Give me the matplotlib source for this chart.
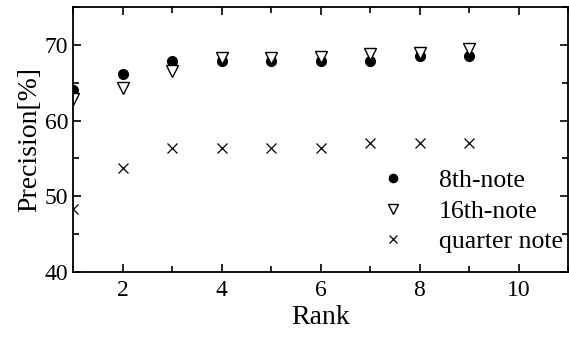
import matplotlib
matplotlib.use('Agg')
import matplotlib.pyplot as plt
from matplotlib.ticker import MultipleLocator

plt.rcParams['font.family'] = ['Liberation Serif', 'DejaVu Serif']

rank = [1, 2, 3, 4, 5, 6, 7, 8, 9]
eighth = [64.1, 66.2, 67.9, 67.9, 67.9, 67.9, 67.9, 68.5, 68.5]
sixteenth = [62.8, 64.3, 66.6, 68.3, 68.3, 68.4, 68.8, 68.9, 69.4]
quarter = [48.3, 53.7, 56.4, 56.4, 56.4, 56.4, 57.0, 57.0, 57.0]

fig = plt.figure(figsize=(5.69, 3.38), dpi=100)
ax = fig.add_axes([73/569, 1 - 272/338, (568-73)/569, (272-7)/338])

ax.plot(rank, eighth, linestyle='none', marker='o', markersize=7, color='black', label='8th-note')
ax.plot(rank, sixteenth, linestyle='none', marker='v', markersize=8, markerfacecolor='white',
        markeredgecolor='black', markeredgewidth=1, label='16th-note')
ax.plot(rank, quarter, linestyle='none', marker='x', markersize=7, color='black',
        markeredgewidth=0.9, label='quarter note')

ax.set_xlim(1, 11)
ax.set_ylim(40, 75)
ax.xaxis.set_major_locator(MultipleLocator(2))
ax.xaxis.set_minor_locator(MultipleLocator(1))
ax.yaxis.set_major_locator(MultipleLocator(10))
ax.yaxis.set_minor_locator(MultipleLocator(5))
ax.tick_params(which='both', direction='in', top=True, right=True, labelsize=17, width=1.2)
ax.tick_params(which='major', length=6)
ax.tick_params(which='minor', length=4)
ax.tick_params(axis='x', pad=6)
for s in ax.spines.values():
    s.set_linewidth(1.3)

ax.set_xlabel('Rank', fontsize=20, labelpad=3)
ax.set_ylabel('Precision[%]', fontsize=20, labelpad=2)

ax.legend(loc='lower right', frameon=False, fontsize=18.5, handlelength=1.0, handletextpad=1.3,
          labelspacing=0.3, borderaxespad=0.0, borderpad=0.0, markerscale=0.85,
          bbox_to_anchor=(0.99, 0.07))

fig.savefig('out.png', dpi=100)
